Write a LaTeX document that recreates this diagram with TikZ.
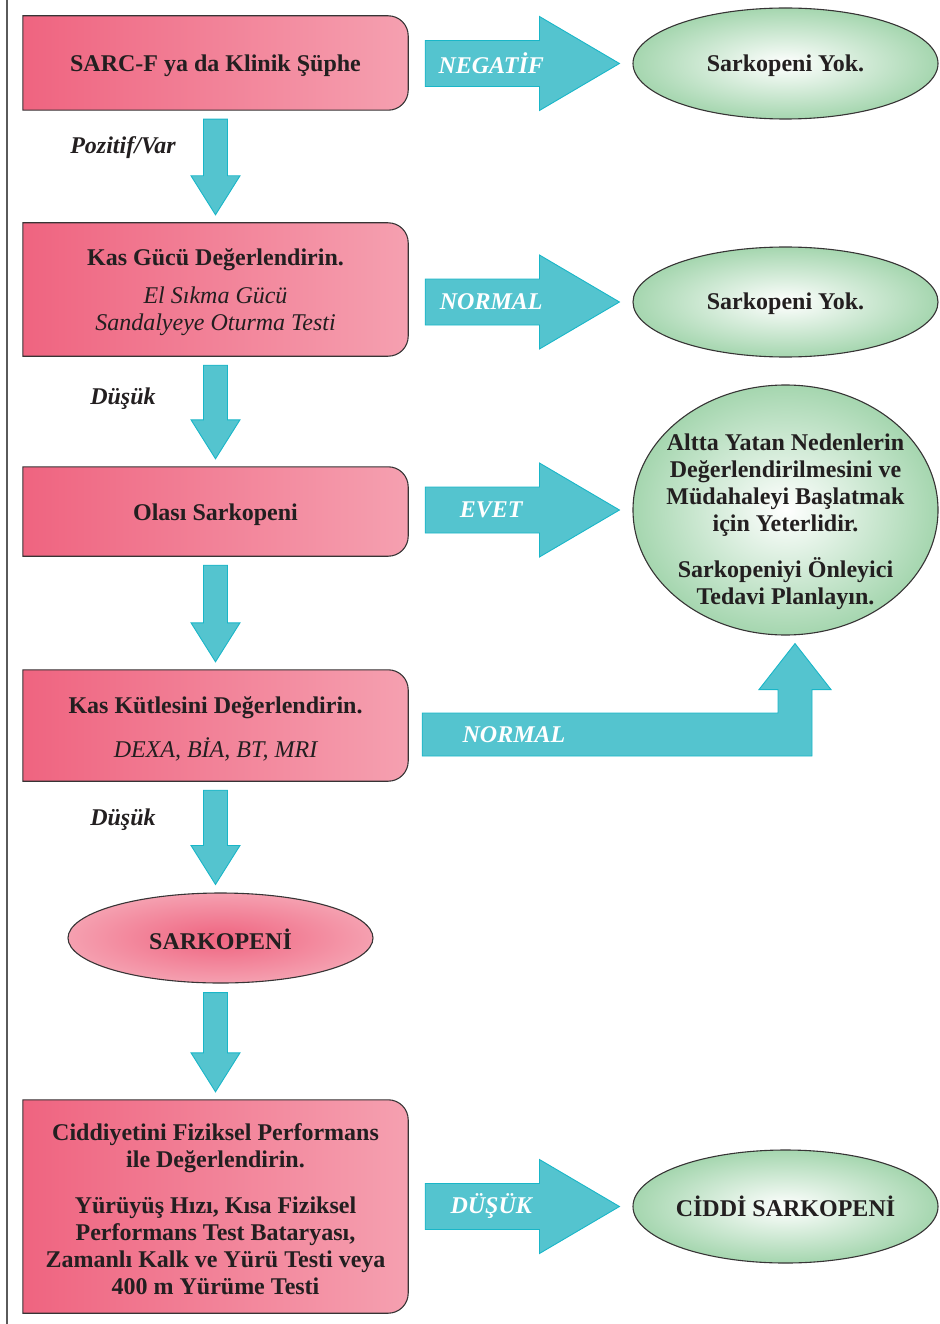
\documentclass[tikz,border=0pt]{standalone}
\usepackage{fontspec}
\setmainfont{Liberation Serif}
\usetikzlibrary{shapes.geometric,calc,backgrounds}

\definecolor{pinkL}{RGB}{239,100,128}
\definecolor{pinkR}{RGB}{245,160,176}
\definecolor{arrowfill}{RGB}{84,196,207}
\definecolor{arrowedge}{RGB}{25,182,200}
\definecolor{greenout}{RGB}{165,214,175}
\definecolor{inkc}{RGB}{35,31,32}
\definecolor{edgec}{RGB}{55,52,53}
\definecolor{pagerule}{RGB}{90,90,90}

\tikzset{
  boxnode/.style={rectangle, minimum width=385pt, inner sep=0pt},
  boxtext/.style={inner sep=0pt, align=center, text=inkc, yshift=-3pt,
    font=\fontsize{24}{27}\selectfont},
  boxshape/.style={draw=edgec, line width=1.1pt, left color=pinkL, right color=pinkR},
  greenell/.style={ellipse, inner sep=0pt, minimum width=305pt, draw=edgec,
    line width=1.1pt, inner color=white, outer color=greenout},
  pinkell/.style={ellipse, inner sep=0pt, minimum width=305pt, minimum height=90pt,
    draw=edgec, line width=1.1pt, inner color=pinkL, outer color=pinkR},
  blockarrow/.style={fill=arrowfill, draw=arrowedge, line width=0.9pt},
  arrowlabel/.style={text=white, font=\fontsize{24}{27}\selectfont\bfseries\itshape},
  sidelabel/.style={text=inkc, font=\fontsize{24}{27}\selectfont\bfseries\itshape},
}

% box with square left corners and rounded right corners, behind the node
\newcommand{\rbox}[1]{%
  \path[boxshape] (#1.north west) -- ($(#1.north east)+(-20,0)$)
    arc[start angle=90,end angle=0,radius=20]
    -- ($(#1.south east)+(0,20)$)
    arc[start angle=0,end angle=-90,radius=20]
    -- (#1.south west) -- cycle;}

% horizontal block arrow from a box to an ellipse, with its label
\newcommand{\rblock}[3]{%
  \draw[blockarrow] let \p1=(#1.east), \p2=(#2.west) in
    (\x1+17pt,\y2+23pt) -- (\x2-93pt,\y2+23pt) -- (\x2-93pt,\y2+47pt)
    -- (\x2-13pt,\y2) -- (\x2-93pt,\y2-47pt) -- (\x2-93pt,\y2-23pt)
    -- (\x1+17pt,\y2-23pt) -- cycle
    node[arrowlabel] at (\x1+83pt,\y2) {#3};}

% vertical block arrow from #1 down to #2, centred on the x of #3
\newcommand{\vblock}[3]{%
  \draw[blockarrow] let \p1=(#1.south), \p2=(#2.north), \p3=(#3.center) in
    (\x3-12pt,\y1-9pt) -- (\x3+12pt,\y1-9pt) -- (\x3+12pt,\y2+47pt)
    -- (\x3+24.5pt,\y2+47pt) -- (\x3,\y2+8pt) -- (\x3-24.5pt,\y2+47pt)
    -- (\x3-12pt,\y2+47pt) -- cycle;}

\begin{document}
\begin{tikzpicture}[x=1pt,y=1pt]
  \useasboundingbox (0,0) rectangle (939,-1324);
  \draw[pagerule, line width=1.1pt] (7,0) -- (7,-1324);

  % left column boxes
  \node[boxnode, minimum height=94pt,
    label={[boxtext, name=b1t]center:{\bfseries SARC-F ya da Klinik Şüphe}}] (b1) at (215.5,-63) {};
  \node[boxnode, minimum height=133pt,
    label={[boxtext, name=b2t]center:{\bfseries Kas Gücü Değerlendirin.\\[11pt]
      \itshape El Sıkma Gücü\\\itshape Sandalyeye Oturma Testi}}] (b2) at (215.5,-289.5) {};
  \node[boxnode, minimum height=89pt,
    label={[boxtext, name=b3t]center:{\bfseries Olası Sarkopeni}}] (b3) at (215.5,-511.5) {};
  \node[boxnode, minimum height=111pt,
    label={[boxtext, name=b4t]center:{\bfseries Kas Kütlesini Değerlendirin.\\[17pt]
      \itshape DEXA, BİA, BT, MRI}}] (b4) at (215.5,-725.5) {};
  \node[pinkell,
    label={[boxtext, name=sarkt, yshift=1.5pt]center:{\bfseries SARKOPENİ}}] (sark) at (220.5,-938) {};
  \node[boxnode, minimum height=213pt,
    label={[boxtext, name=b5t, font=\fontsize{24}{27}\selectfont\bfseries]center:{%
      Ciddiyetini Fiziksel Performans\\ile Değerlendirin.\\[19pt]
      Yürüyüş Hızı, Kısa Fiziksel\\Performans Test Bataryası,\\
      Zamanlı Kalk ve Yürü Testi veya\\400 m Yürüme Testi}}] (b5) at (215.5,-1206.5) {};

  \begin{scope}[on background layer]
    \rbox{b1}\rbox{b2}\rbox{b3}\rbox{b4}\rbox{b5}
  \end{scope}

  % right column outcomes
  \node[greenell, minimum height=111pt,
    label={[boxtext, name=e1t, yshift=1pt]center:{\bfseries Sarkopeni Yok.}}] (e1) at (785.5,-63.5) {};
  \node[greenell, minimum height=110pt,
    label={[boxtext, name=e2t, yshift=1pt]center:{\bfseries Sarkopeni Yok.}}] (e2) at (785.5,-302) {};
  \node[greenell, minimum height=250pt,
    label={[boxtext, name=e3t, yshift=-9pt, font=\fontsize{24}{27}\selectfont\bfseries]center:{%
      Altta Yatan Nedenlerin\\Değerlendirilmesini ve\\Müdahaleyi Başlatmak\\için Yeterlidir.\\[19pt]
      Sarkopeniyi Önleyici\\Tedavi Planlayın.}}] (e3) at (785.5,-510) {};
  \node[greenell, minimum height=113pt,
    label={[boxtext, name=e4t, yshift=3pt]center:{\bfseries CİDDİ SARKOPENİ}}] (e4) at (785.5,-1206.5) {};

  % downward flow
  \vblock{b1}{b2}{b1}
  \vblock{b2}{b3}{b2}
  \vblock{b3}{b4}{b3}
  \vblock{b4}{sark}{b4}
  \vblock{sark}{b5}{b5}

  \node[sidelabel] (l1) at (123,-148) {Pozitif/Var};
  \node[sidelabel] (l2) at (123,-399) {Düşük};
  \node[sidelabel] (l3) at (123,-820) {Düşük};

  % sideways outcomes
  \rblock{b1}{e1}{NEGATİF}
  \rblock{b2}{e2}{NORMAL}
  \rblock{b3}{e3}{EVET}
  \rblock{b5}{e4}{DÜŞÜK}

  % normal muscle mass leads up to the preventive-care outcome
  \draw[blockarrow] let \p1=(b4.east), \p2=(e3.south) in
    (\x1+14pt,\y1+12.5pt) -- (\x2-7.5pt,\y1+12.5pt) -- (\x2-7.5pt,\y2-54pt)
    -- (\x2-26.5pt,\y2-54pt) -- (\x2+9.5pt,\y2-8pt) -- (\x2+45.5pt,\y2-54pt)
    -- (\x2+26.5pt,\y2-54pt) -- (\x2+26.5pt,\y1-30.5pt) -- (\x1+14pt,\y1-30.5pt) -- cycle
    node[arrowlabel] at (514,-735) {NORMAL};
\end{tikzpicture}
\end{document}
